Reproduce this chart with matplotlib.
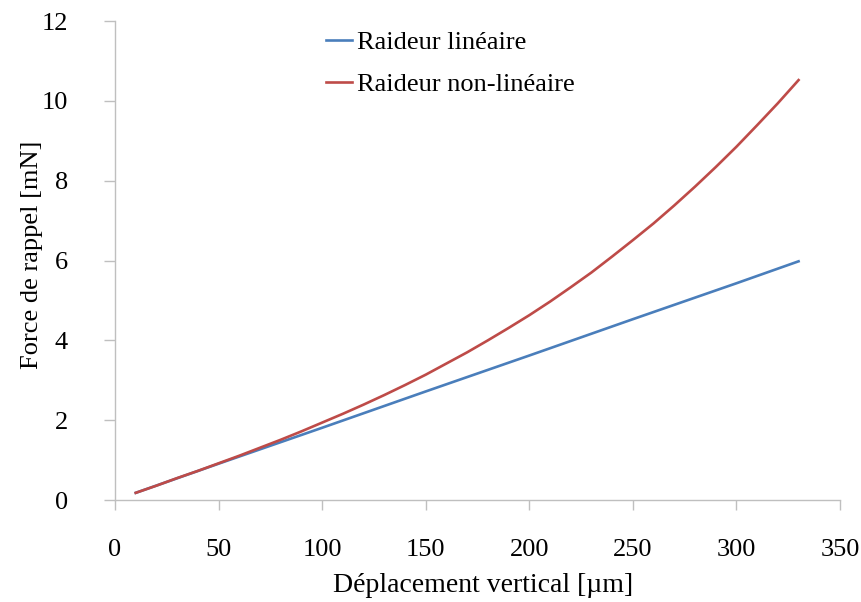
import matplotlib
matplotlib.use("Agg")
import matplotlib.pyplot as plt

# displacement [um] and restoring force [mN]
x_lin = [10, 50, 100, 150, 200, 250, 300, 330]
f_lin = [0.18, 0.91, 1.81, 2.72, 3.62, 4.53, 5.43, 5.98]

x_nl = [10, 20, 30, 40, 50, 60, 70, 80, 90, 100, 110, 120, 130, 140, 150, 160, 170,
        180, 190, 200, 210, 220, 230, 240, 250, 260, 270, 280, 290, 300, 310, 320, 330]
f_nl = [0.18, 0.36, 0.55, 0.73, 0.92, 1.11, 1.31, 1.51, 1.72, 1.94, 2.16, 2.39, 2.63,
        2.88, 3.14, 3.42, 3.70, 4.00, 4.31, 4.63, 4.97, 5.33, 5.70, 6.10, 6.51, 6.93,
        7.38, 7.85, 8.34, 8.85, 9.39, 9.94, 10.52]

plt.rcParams["font.family"] = ["Liberation Serif", "DejaVu Serif"]

fig = plt.figure(figsize=(8.61, 6.02), dpi=100)
ax = fig.add_axes([0.1336, 0.1694, 0.842, 0.7957])

ax.plot(x_lin, f_lin, color="#4A7EBB", lw=1.9, label="Raideur linéaire")
ax.plot(x_nl, f_nl, color="#BE4B48", lw=1.9, label="Raideur non-linéaire")

ax.set_xlim(0, 350); ax.set_ylim(0, 12)
ax.set_xticks(range(0, 351, 50)); ax.set_yticks(range(0, 13, 2))
for s in ["top", "right"]:
    ax.spines[s].set_visible(False)
for s in ["left", "bottom"]:
    ax.spines[s].set_color("#BFBFBF"); ax.spines[s].set_linewidth(1.0)
ax.tick_params(axis="x", direction="out", length=7, width=1.0, color="#BFBFBF", pad=21, labelsize=19)
ax.tick_params(axis="y", direction="out", length=8, width=1.0, color="#BFBFBF", pad=26, labelsize=19)

ax.set_xlabel("Déplacement vertical [µm]", fontsize=20)
ax.set_ylabel("Force de rappel [mN]", fontsize=19)
ax.xaxis.set_label_coords(0.507, -0.153)
ax.yaxis.set_label_coords(-0.1, 0.512)

ax.legend(loc="upper left", bbox_to_anchor=(0.258, 1.03), frameon=False, fontsize=19,
          handlelength=1.0, handletextpad=0.2, labelspacing=0.7)

fig.savefig("out.png", dpi=100)
